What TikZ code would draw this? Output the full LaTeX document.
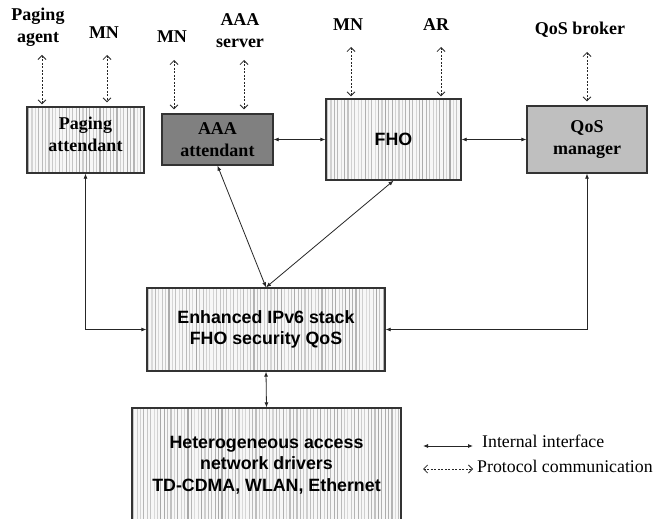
\documentclass[tikz,border=0pt]{standalone}
\usepackage{fontspec}
\setmainfont{Liberation Serif}
\setsansfont{Liberation Sans}
\usetikzlibrary{arrows.meta,calc}

\newcommand\stripefill[4]{%
  \begin{scope}
    \clip (#1,#2) rectangle (#3,#4);
    \fill[gray!6] (#1,#2) rectangle (#3,#4);
    \foreach \k in {0,...,90}{%
      \pgfmathsetmacro\xx{#1+1.6+\k*3.4}%
      \pgfmathsetmacro\gl{int(28+42*rnd)}%
      \pgfmathsetmacro\lw{0.7+0.7*rnd}%
      \draw[gray!\gl, line width=\lw pt] (\xx,#2) -- (\xx,#4);
    }
  \end{scope}}

\tikzset{
  x=1pt, y=-1pt,
  serifb/.style={font=\bfseries\fontsize{18}{22}\selectfont, align=center, inner sep=0pt},
  sansb/.style={font=\sffamily\bfseries\fontsize{17.8}{21.5}\selectfont, align=center, inner sep=0pt},
  box/.style={draw=black!80, line width=1.3pt, inner sep=0pt, align=center},
  iface/.style={{Latex[length=5pt,width=4pt]}-{Latex[length=5pt,width=4pt]}, line width=0.8pt, black!85},
  proto/.style={{Straight Barb[length=4pt,width=8pt]}-{Straight Barb[length=4pt,width=8pt]}, dash pattern=on 2pt off 1.5pt, line width=0.8pt, black!85},
  legtext/.style={font=\fontsize{17.8}{20}\selectfont, anchor=west, inner sep=0pt}
}

\begin{document}
\begin{tikzpicture}
\useasboundingbox (0,0) rectangle (670,519);
\clip (0,0) rectangle (670,519);
\fill[white] (0,0) rectangle (670,519);
\pgfmathsetseed{7}

% striped backgrounds
\stripefill{27}{107}{144}{173}
\stripefill{326}{99}{461}{180}
\stripefill{147}{288}{385}{371}
\stripefill{132}{408}{401}{530}

% boxes
\node[box, minimum width=117pt, minimum height=66pt,
  label={[serifb, name=pagt, yshift=6pt]center:Paging\\attendant}] (pag) at (85.5,140) {};
\node[box, serifb, fill=black!50, minimum width=111pt, minimum height=51pt] (aaa) at (217.5,139.5) {AAA\\attendant};
\node[box, sansb, minimum width=135pt, minimum height=81pt] (fho) at (393.5,139.5) {FHO};
\node[box, serifb, fill=black!25, minimum width=120pt, minimum height=67pt] (qos) at (587,139.5) {QoS\\manager};
\node[box, sansb, minimum width=238pt, minimum height=83pt] (enh) at (266,329.5) {Enhanced IPv6 stack\\FHO security QoS};
\node[box, minimum width=269pt, minimum height=122pt] (het) at (266.5,469) {};
\node[sansb] (hett) at (266.5,465) {Heterogeneous access\\network drivers\\TD-CDMA, WLAN, Ethernet};

% top labels
\node[serifb] (lpa) at (38,27.5) {Paging\\agent};
\node[serifb] (lmn1) at (104,33) {MN};
\node[serifb] (lmn2) at (172,37) {MN};
\node[serifb] (laaa) at (240,30.5) {AAA\\server};
\node[serifb] (lmn3) at (348,25) {MN};
\node[serifb] (lar) at (436,25) {AR};
\node[serifb] (lqb) at (580,30) {QoS broker};

% protocol communication (dashed)
\coordinate (d1) at (42,55);
\coordinate (d2) at (107,55);
\coordinate (d3) at (174,60);
\coordinate (d4) at (244,60);
\coordinate (d5) at (351,47);
\coordinate (d6) at (441,47);
\coordinate (d7) at (587,52);
\draw[proto, shorten >=2pt] (d1) -- (d1 |- pag.north);
\draw[proto, shorten >=4pt] (d2) -- (d2 |- pag.north);
\draw[proto, shorten >=4pt] (d3) -- (d3 |- aaa.north);
\draw[proto, shorten >=4pt] (d4) -- (d4 |- aaa.north);
\draw[proto, shorten >=2pt] (d5) -- (d5 |- fho.north);
\draw[proto, shorten >=2pt] (d6) -- (d6 |- fho.north);
\draw[proto, shorten >=4pt] (d7) -- (d7 |- qos.north);

% internal interfaces
\draw[iface] (aaa.east) -- (fho.west);
\draw[iface] (fho.east) -- (qos.west);
\draw[iface] (pag.south) |- (enh.west);
\draw[iface] (qos.south) |- (enh.east);
\draw[iface] (aaa.south) -- (enh.north);
\draw[iface] (fho.south) -- (enh.north);
\draw[iface] (enh.south) -- (het.north);

% legend
\coordinate (la1) at (423,446);
\coordinate (lb1) at (473,446);
\coordinate (la2) at (423,469);
\coordinate (lb2) at (473,469);
\draw[iface] (la1) -- (lb1);
\draw[proto] (la2) -- (lb2);
\node[legtext] (lt1) at (482,441) {Internal interface};
\node[legtext] (lt2) at (477,466) {Protocol communication};
\end{tikzpicture}
\end{document}
